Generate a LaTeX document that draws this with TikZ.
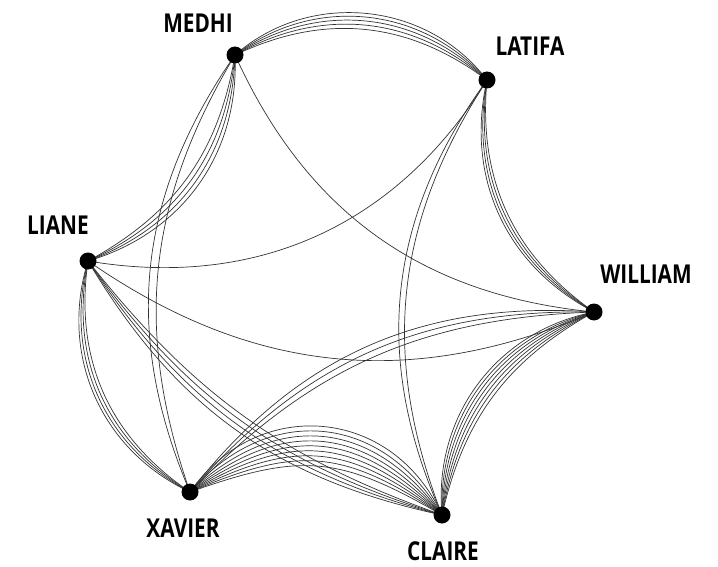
\documentclass[tikz,border=0pt]{standalone}
\usepackage{fontspec}
\newfontfamily\lblfont[FakeStretch=0.8]{Open Sans}
\begin{document}
\begin{tikzpicture}[x=1pt,y=-1pt,
  edge/.style={draw=black!80,line width=0.7pt},
  dot/.style={circle,fill=black,inner sep=0pt,minimum size=17pt},
  lbl/.style={font=\lblfont\bfseries\fontsize{26}{26}\selectfont,inner sep=0pt}]
\useasboundingbox (0,0) rectangle (718,567);
\coordinate (medhi) at (235,55);
\coordinate (latifa) at (487,80);
\coordinate (liane) at (88,261);
\coordinate (william) at (594,312);
\coordinate (xavier) at (190,492);
\coordinate (claire) at (442,515);
% edges
\foreach \a in {31,35,39,43,47} \draw[edge] (medhi) to[bend left=\a] (latifa);
\foreach \a in {26,30,34,38} \draw[edge] (medhi) to[bend left=\a] (liane);
\foreach \a in {25,29} \draw[edge] (medhi) to[bend right=\a] (xavier);
\draw[edge] (medhi) to[bend right=30] (william);
\draw[edge] (liane) to[bend right=34] (latifa);
\draw[edge] (liane) to[bend right=29] (william);
\foreach \a in {32,35,38,41} \draw[edge] (liane) to[bend right=\a] (xavier);
\foreach \a in {16,18.5,21,23.5} \draw[edge] (liane) to[bend right=\a] (claire);
\foreach \a in {27,30} \draw[edge] (latifa) to[bend right=\a] (claire);
\foreach \a in {30,32.5,35,37.5} \draw[edge] (latifa) to[bend right=\a] (william);
\foreach \a in {22,25,28} \draw[edge] (william) to[bend right=\a] (xavier);
\foreach \a in {24,27,30,33,36,39,42} \draw[edge] (william) to[bend right=\a] (claire);
\foreach \a in {24.8,28.4,32.1,36.0,40.1,44.4,49.1,54.3,60.2} \draw[edge] (xavier) to[bend left=\a,looseness=1.2] (claire);
% dots
\foreach \n in {medhi,latifa,liane,william,xavier,claire} \node[dot] (\n-dot) at (\n) {};
% labels
\node[lbl] (medhi-lbl) at (198,23) {MEDHI};
\node[lbl] (latifa-lbl) at (530,46) {LATIFA};
\node[lbl] (liane-lbl) at (58,225) {LIANE};
\node[lbl] (william-lbl) at (646,274) {WILLIAM};
\node[lbl] (xavier-lbl) at (183,528) {XAVIER};
\node[lbl] (claire-lbl) at (443,551) {CLAIRE};
\end{tikzpicture}
\end{document}
